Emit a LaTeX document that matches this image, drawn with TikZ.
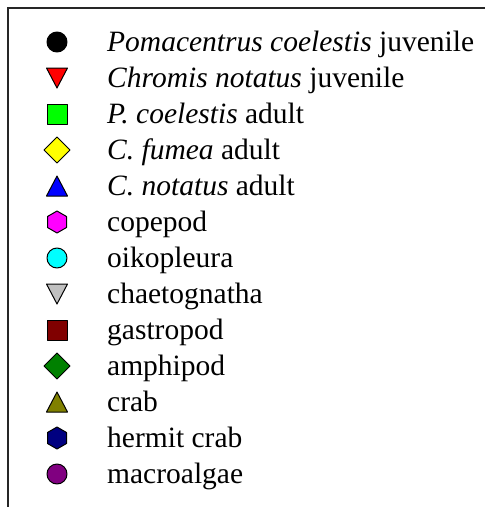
\documentclass[tikz,border=0pt]{standalone}
\usepackage{fontspec}
\setmainfont{Liberation Serif}
\begin{document}
\begin{tikzpicture}[x=1pt,y=-1pt,
  mk/.style={draw=black,line width=1pt,line join=round},
  lab/.style={anchor=base west,inner sep=0pt,font=\fontsize{29.5}{34}\selectfont}]
\useasboundingbox (0,0) rectangle (485,507);
\draw[line width=2pt,color=black!85] (485,8) -- (8,8) -- (8,507);
\newcommand{\mkcirc}[2]{\filldraw[mk,fill=#2] (57,#1) circle (10);}
\newcommand{\mkdown}[2]{\filldraw[mk,fill=#2] (46.5,#1-10) -- (67.5,#1-10) -- (57,#1+10) -- cycle;}
\newcommand{\mkup}[2]{\filldraw[mk,fill=#2] (57,#1-10) -- (67.5,#1+10) -- (46.5,#1+10) -- cycle;}
\newcommand{\mksq}[2]{\filldraw[mk,fill=#2] (47,#1-10) rectangle (67,#1+10);}
\newcommand{\mkdia}[2]{\filldraw[mk,fill=#2] (57,#1-13) -- (70,#1) -- (57,#1+13) -- (44,#1) -- cycle;}
\newcommand{\mkhex}[2]{\filldraw[mk,fill=#2] (57,#1-11) -- (66.5,#1-5.5) -- (66.5,#1+5.5) -- (57,#1+11) -- (47.5,#1+5.5) -- (47.5,#1-5.5) -- cycle;}
\definecolor{cred}{RGB}{255,0,0}
\definecolor{cgreen}{RGB}{0,255,0}
\definecolor{cyellow}{RGB}{255,255,0}
\definecolor{cblue}{RGB}{0,0,255}
\definecolor{cmag}{RGB}{255,0,255}
\definecolor{ccyan}{RGB}{0,255,255}
\definecolor{cgrey}{RGB}{192,192,192}
\definecolor{cmaroon}{RGB}{128,0,0}
\definecolor{cdgreen}{RGB}{0,128,0}
\definecolor{colive}{RGB}{128,128,0}
\definecolor{cnavy}{RGB}{0,0,128}
\definecolor{cpurple}{RGB}{128,0,128}
\mkcirc{42}{black}
\node[lab] (t1) at (107,51) {\textit{Pomacentrus coelestis} juvenile};
\mkdown{78}{cred}
\node[lab] (t2) at (107,87) {\textit{Chromis notatus} juvenile};
\mksq{114}{cgreen}
\node[lab] (t3) at (107,123) {\textit{P. coelestis} adult};
\mkdia{150}{cyellow}
\node[lab] (t4) at (107,159) {\textit{C. fumea} adult};
\mkup{186}{cblue}
\node[lab] (t5) at (107,195) {\textit{C. notatus} adult};
\mkhex{222}{cmag}
\node[lab] (t6) at (107,231) {copepod};
\mkcirc{258}{ccyan}
\node[lab] (t7) at (107,267) {oikopleura};
\mkdown{294}{cgrey}
\node[lab] (t8) at (107,303) {chaetognatha};
\mksq{330}{cmaroon}
\node[lab] (t9) at (107,339) {gastropod};
\mkdia{366}{cdgreen}
\node[lab] (t10) at (107,375) {amphipod};
\mkup{402}{colive}
\node[lab] (t11) at (107,411) {crab};
\mkhex{438}{cnavy}
\node[lab] (t12) at (107,447) {hermit crab};
\mkcirc{474}{cpurple}
\node[lab] (t13) at (107,483) {macroalgae};
\end{tikzpicture}
\end{document}
